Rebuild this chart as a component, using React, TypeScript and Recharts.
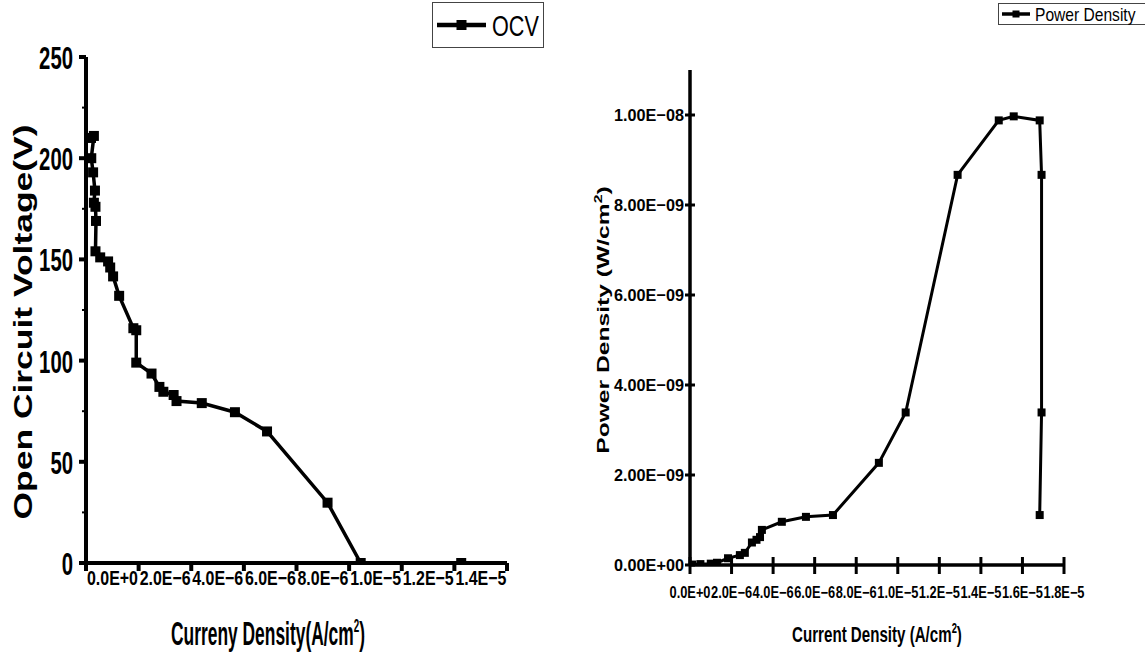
import React from "react";
import { LineChart, Line, XAxis, YAxis } from "recharts";

// ---------- Data ----------
const ocvCurrent = [
  1.9e-7, 3.0e-7, 2.0e-7, 2.7e-7, 3.4e-7, 3.0e-7, 3.6e-7, 3.8e-7, 3.6e-7, 5.4e-7,
  8.4e-7, 9.2e-7, 1.03e-6, 1.26e-6, 1.8e-6, 1.91e-6, 1.91e-6, 2.49e-6, 2.79e-6,
  2.94e-6, 3.33e-6, 3.44e-6, 4.4e-6, 5.66e-6, 6.88e-6, 9.18e-6, 1.044e-5, 1.426e-5,
];
const ocvVoltage = [
  210, 211, 200, 193, 184, 178, 176, 169, 154, 151,
  149, 146, 141.6, 132, 116, 115, 99, 93.6, 87,
  84.6, 83, 80, 79, 74.5, 65, 29.8, 0, 0,
];

const pdCurrent = [
  1.0e-7, 5.0e-7, 1.0e-6, 1.3e-6, 1.83e-6, 2.4e-6, 2.64e-6, 2.98e-6, 3.2e-6, 3.37e-6,
  3.46e-6, 4.42e-6, 5.58e-6, 6.88e-6, 9.09e-6, 1.038e-5, 1.288e-5, 1.486e-5, 1.558e-5,
  1.683e-5, 1.692e-5, 1.692e-5, 1.683e-5,
];
const pdPower = [
  1.0e-11, 2.0e-11, 3.0e-11, 5.0e-11, 1.5e-10, 2.2e-10, 2.7e-10, 5.0e-10, 5.6e-10, 6.2e-10,
  7.8e-10, 9.6e-10, 1.07e-9, 1.11e-9, 2.27e-9, 3.39e-9, 8.67e-9, 9.88e-9, 9.97e-9,
  9.88e-9, 8.67e-9, 3.39e-9, 1.11e-9,
];

const leftXTicks = [0, 2e-6, 4e-6, 6e-6, 8e-6, 1e-5, 1.2e-5, 1.4e-5, 1.6e-5];
const leftXLabels = ["0.0E+0", "2.0E\u22126", "4.0E\u22126", "6.0E\u22126", "8.0E\u22126", "1.0E\u22125", "1.2E\u22125", "1.4E\u22125", ""];
const leftYTicks = [0, 25, 50, 75, 100, 125, 150, 175, 200, 225, 250];
const leftYMajor = [0, 50, 100, 150, 200, 250];

const rightXTicks = [0, 2e-6, 4e-6, 6e-6, 8e-6, 1e-5, 1.2e-5, 1.4e-5, 1.6e-5, 1.8e-5];
const rightXLabels = ["0.0E+0", "2.0E\u22126", "4.0E\u22126", "6.0E\u22126", "8.0E\u22126", "1.0E\u22125", "1.2E\u22125", "1.4E\u22125", "1.6E\u22125", "1.8E\u22125"];
const rightYTicks = [0, 2e-9, 4e-9, 6e-9, 8e-9, 1e-8];
const rightYLabels = ["0.00E+00", "2.00E\u221209", "4.00E\u221209", "6.00E\u221209", "8.00E\u221209", "1.00E\u221208"];

const ocvData = ocvCurrent.map((x, i) => ({ x, y: ocvVoltage[i] }));
const pdData = pdCurrent.map((x, i) => ({ x, y: pdPower[i] }));

// ---------- Styles ----------
const SANS = "'Liberation Sans', Arial, sans-serif";

const squareDot = (size: number) => (props: any) => {
  const { cx, cy, index } = props;
  if (cx == null || cy == null) return <g key={`d${index}`} />;
  return <rect key={`d${index}`} x={cx - size / 2} y={cy - size / 2} width={size} height={size} fill="#000" />;
};

const LeftYTick = (props: any) => {
  const { x, y, payload } = props;
  const v = payload.value;
  const major = leftYMajor.includes(v);
  const label = String(v);
  return (
    <g>
      <line x1={x} x2={x - (major ? 7 : 4)} y1={y} y2={y} stroke="#000" strokeWidth={major ? 4 : 2} />
      {major && (
        <text x={x - 13} y={y + 12} textAnchor="end" fontSize={31} fontWeight="bold" fontFamily={SANS}
          textLength={label.length * 11.3} lengthAdjust="spacingAndGlyphs" fill="#000">
          {label}
        </text>
      )}
    </g>
  );
};

const LeftXTick = (props: any) => {
  const { x, y, index } = props;
  const label = leftXLabels[index] ?? "";
  return (
    <g>
      <line x1={x} x2={x} y1={y} y2={y + 8} stroke="#000" strokeWidth={4} />
      {label && (
        <text x={x + 1} y={y + 22} textAnchor="start" fontSize={21} fontWeight="bold" fontFamily={SANS}
          textLength={51} lengthAdjust="spacingAndGlyphs" fill="#000">
          {label}
        </text>
      )}
    </g>
  );
};

const RightYTick = (props: any) => {
  const { x, y, index } = props;
  const label = rightYLabels[index] ?? "";
  return (
    <g>
      <line x1={x - 5} x2={x + 5} y1={y} y2={y} stroke="#000" strokeWidth={3} />
      <text x={x - 6} y={y + 6} textAnchor="end" fontSize={17} fontWeight="bold" fontFamily={SANS}
        textLength={70} lengthAdjust="spacingAndGlyphs" fill="#000">
        {label}
      </text>
    </g>
  );
};

const RightXTick = (props: any) => {
  const { x, y, index } = props;
  const label = rightXLabels[index] ?? "";
  return (
    <g>
      <line x1={x} x2={x} y1={y - 8} y2={y + 9} stroke="#000" strokeWidth={3} />
      <text x={x} y={y + 33} textAnchor="middle" fontSize={16} fontWeight="bold" fontFamily={SANS}
        textLength={41} lengthAdjust="spacingAndGlyphs" fill="#000">
        {label}
      </text>
    </g>
  );
};

const LeftYTitle = () => (
  <text transform="translate(32,322) rotate(-90)" textAnchor="middle" fontSize={25} fontWeight="bold"
    fontFamily={SANS} textLength={395} lengthAdjust="spacingAndGlyphs" fill="#000">
    Open Circuit Voltage(V)
  </text>
);

const LeftXTitle = () => (
  <text transform="translate(268,645) scale(0.58,1.08)" x={0} y={0} textAnchor="middle" fontSize={30}
    fontWeight="bold" fontFamily={SANS} fill="#000">
    Curreny Density(A/cm<tspan dy={-12} fontSize={17}>2</tspan><tspan dy={12}>)</tspan>
  </text>
);

const RightYTitle = () => (
  <text transform="translate(49,320) rotate(-90) scale(1.45,1)" x={0} y={0} textAnchor="middle" fontSize={17}
    fontWeight="bold" fontFamily={SANS} fill="#000">
    Power Density (W/cm<tspan dy={-7} fontSize={11}>2</tspan><tspan dy={7}>)</tspan>
  </text>
);

const RightXTitle = () => (
  <text transform="translate(317,642) scale(0.72,1.08)" x={0} y={0} textAnchor="middle" fontSize={21}
    fontWeight="bold" fontFamily={SANS} fill="#000">
    Current Density (A/cm<tspan dy={-8} fontSize={13}>2</tspan><tspan dy={8}>)</tspan>
  </text>
);

const LegendBox = ({ left, top, width, height, lineX1, lineX2, marker, strokeW, text, textX, baseline, fontSize, sx, sy }: any) => (
  <svg style={{ position: "absolute", left, top }} width={width} height={height}>
    <rect x={0.5} y={0.5} width={width - 1} height={height - 1} fill="#fff" stroke="#444" strokeWidth={1} />
    <line x1={lineX1} x2={lineX2} y1={height / 2} y2={height / 2} stroke="#000" strokeWidth={strokeW} />
    <rect x={(lineX1 + lineX2) / 2 - marker / 2} y={height / 2 - marker / 2} width={marker} height={marker} fill="#000" />
    <text transform={`translate(${textX},${baseline}) scale(${sx},${sy})`} x={0} y={0} fontSize={fontSize}
      fontFamily={SANS} fill="#000">
      {text}
    </text>
  </svg>
);

export default function App() {
  return (
    <div style={{ position: "absolute", left: 0, top: 0, width: 1145, height: 652, background: "#fff", overflow: "hidden" }}>
      <div style={{ position: "absolute", left: 0, top: 0 }}>
        <LineChart width={560} height={652} data={ocvData} margin={{ top: 57, right: 53, bottom: 0, left: 0 }}>
          <XAxis dataKey="x" type="number" domain={[0, 1.6e-5]} ticks={leftXTicks} height={89}
            axisLine={{ stroke: "#000", strokeWidth: 4 }} tickLine={false} tickSize={0} tickMargin={0}
            tick={<LeftXTick />} interval={0} allowDataOverflow />
          <YAxis dataKey="y" type="number" domain={[0, 250]} ticks={leftYTicks} width={86}
            axisLine={{ stroke: "#000", strokeWidth: 4 }} tickLine={false} tickSize={0} tickMargin={0}
            tick={<LeftYTick />} interval={0} allowDataOverflow />
          <Line dataKey="y" type="linear" stroke="#000" strokeWidth={3.5} isAnimationActive={false}
            dot={squareDot(10)} activeDot={false} />
          <LeftYTitle />
          <LeftXTitle />
        </LineChart>
      </div>
      <div style={{ position: "absolute", left: 560, top: 0 }}>
        <LineChart width={585} height={652} data={pdData} margin={{ top: 70, right: 81, bottom: 0, left: 0 }}>
          <XAxis dataKey="x" type="number" domain={[0, 1.8e-5]} ticks={rightXTicks} height={87}
            axisLine={{ stroke: "#000", strokeWidth: 3.5 }} tickLine={false} tickSize={0} tickMargin={0}
            tick={<RightXTick />} interval={0} allowDataOverflow />
          <YAxis dataKey="y" type="number" domain={[0, 1.1e-8]} ticks={rightYTicks} width={130}
            axisLine={{ stroke: "#000", strokeWidth: 3.5 }} tickLine={false} tickSize={0} tickMargin={0}
            tick={<RightYTick />} interval={0} allowDataOverflow />
          <Line dataKey="y" type="linear" stroke="#000" strokeWidth={3} isAnimationActive={false}
            dot={squareDot(8)} activeDot={false} />
          <RightYTitle />
          <RightXTitle />
        </LineChart>
      </div>
      <LegendBox left={432} top={2} width={112} height={46} lineX1={5} lineX2={54} marker={10} strokeW={4.5}
        text="OCV" textX={60} baseline={34} fontSize={24} sx={0.9} sy={1.2} />
      <LegendBox left={998} top={3} width={150} height={22} lineX1={4} lineX2={32} marker={7} strokeW={3.5}
        text="Power Density" textX={37} baseline={18} fontSize={15} sx={1.04} sy={1.2} />
    </div>
  );
}
